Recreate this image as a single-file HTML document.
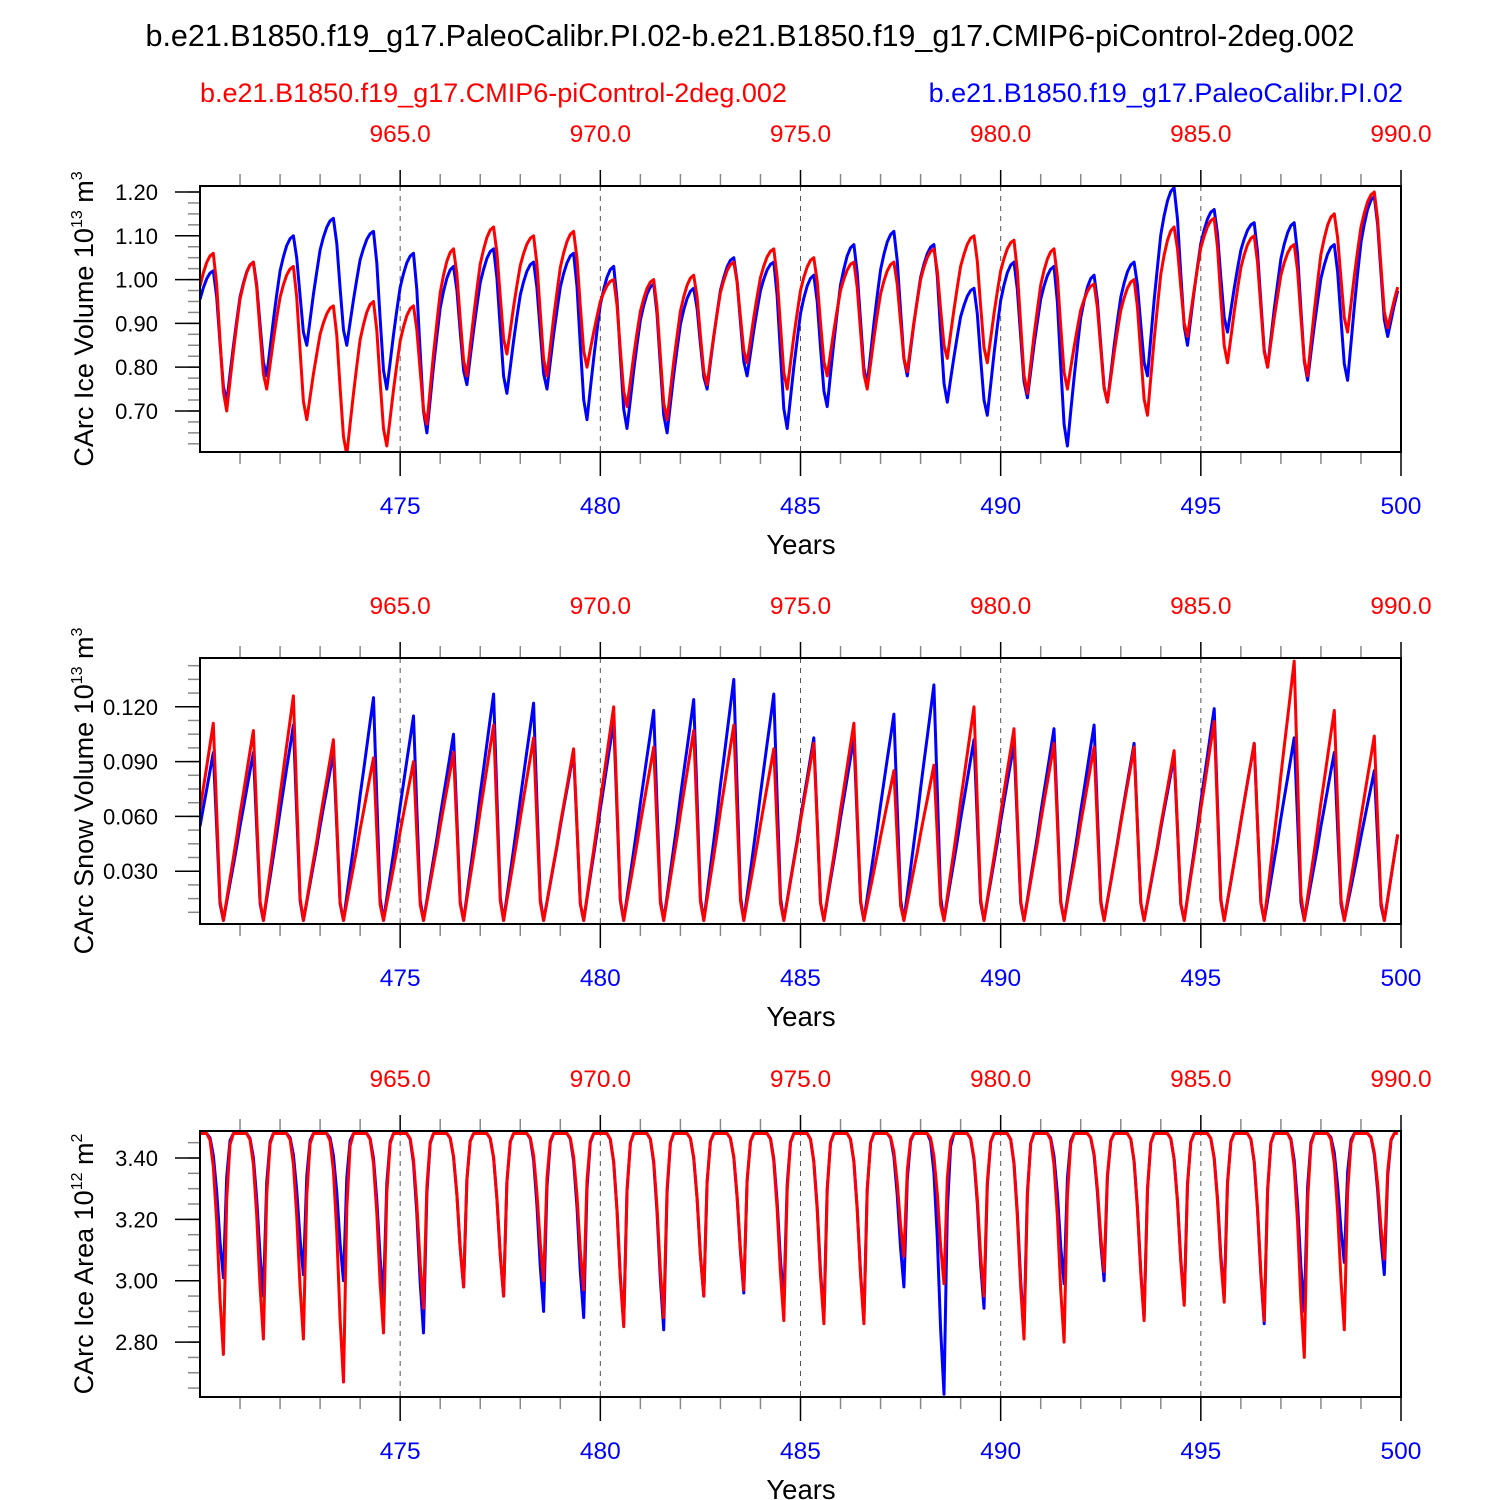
<!DOCTYPE html>
<html><head><meta charset="utf-8"><style>
html,body{margin:0;padding:0;background:#fff;}
svg{display:block;font-family:"Liberation Sans",Arial,sans-serif;}
</style></head><body>
<svg id="chart" width="1500" height="1500" viewBox="0 0 1500 1500">
<text x="750" y="46" font-size="30.5" text-anchor="middle">b.e21.B1850.f19_g17.PaleoCalibr.PI.02-b.e21.B1850.f19_g17.CMIP6-piControl-2deg.002</text>
<text x="200" y="102" font-size="27" fill="#f00">b.e21.B1850.f19_g17.CMIP6-piControl-2deg.002</text>
<text x="1403" y="102" font-size="27" fill="#00f" text-anchor="end">b.e21.B1850.f19_g17.PaleoCalibr.PI.02</text>
</svg>
<script>
// ---- data ----
const years = [470,471,472,473,474,475,476,477,478,479,480,481,482,483,484,485,486,487,488,489,490,491,492,493,494,495,496,497,498,499];
const volBluePeak = [1.02,1.04,1.10,1.14,1.11,1.06,1.03,1.07,1.04,1.06,1.03,0.99,0.98,1.05,1.04,1.01,1.08,1.11,1.08,0.98,1.04,1.03,1.01,1.04,1.21,1.16,1.13,1.13,1.08,1.19];
const volBlueTrough = [0.72,0.78,0.85,0.85,0.75,0.65,0.76,0.74,0.75,0.68,0.66,0.65,0.75,0.78,0.66,0.71,0.76,0.78,0.72,0.69,0.73,0.62,0.72,0.78,0.85,0.88,0.80,0.77,0.77,0.87];
const volRedPeak = [1.06,1.04,1.03,0.94,0.95,0.94,1.07,1.12,1.10,1.11,1.00,1.00,1.01,1.04,1.07,1.05,1.04,1.04,1.07,1.10,1.09,1.07,0.99,1.00,1.12,1.14,1.10,1.08,1.15,1.20];
const volRedTrough = [0.70,0.75,0.68,0.60,0.62,0.67,0.78,0.83,0.78,0.80,0.71,0.68,0.76,0.81,0.75,0.78,0.75,0.79,0.82,0.81,0.74,0.75,0.72,0.69,0.87,0.81,0.80,0.78,0.88,0.89];
const snowBluePeak = [0.095,0.095,0.110,0.095,0.125,0.115,0.105,0.127,0.122,0.095,0.112,0.118,0.124,0.135,0.127,0.103,0.103,0.116,0.132,0.102,0.100,0.108,0.110,0.100,0.093,0.119,0.100,0.103,0.095,0.085];
const snowRedPeak = [0.111,0.107,0.126,0.102,0.092,0.090,0.095,0.110,0.103,0.097,0.120,0.098,0.107,0.110,0.097,0.100,0.111,0.085,0.088,0.120,0.108,0.100,0.098,0.098,0.096,0.112,0.100,0.145,0.118,0.104];
const areaBlueMin = [3.01,2.95,3.02,3.00,2.94,2.83,2.98,2.95,2.90,2.88,2.86,2.84,2.95,2.96,2.93,2.88,2.87,2.98,2.63,2.91,2.84,2.99,3.00,2.88,2.93,2.95,2.86,2.90,3.06,3.02];
const areaRedMin = [2.76,2.81,2.81,2.67,2.83,2.91,2.98,2.95,3.00,2.97,2.85,2.88,2.95,2.97,2.87,2.86,2.86,3.08,2.99,2.95,2.81,2.80,3.03,2.87,2.92,2.93,2.87,2.75,2.84,3.07];
const volTicks = ["0.70","0.80","0.90","1.00","1.10","1.20"];
const snowTicks = ["0.030","0.060","0.090","0.120"];
const areaTicks = ["2.80","3.00","3.20","3.40"];
const bottomTicks = ["475","480","485","490","495","500"];
const topTicks = ["965.0","970.0","975.0","980.0","985.0","990.0"];

// ---- helpers (seasonal shape) ----
const volW = [0.75,0.85,0.93,0.98,1,0.8,0.45,0.12,0,0.2,0.4,0.58];
const snowW = [0.56,0.67,0.78,0.89,1,0.55,0.1,0,0.11,0.22,0.33,0.44];
const areaD = [0,0,0,0.03,0.15,0.4,0.75,1,0.3,0.05,0,0];
function volSeries(pk,tr){const out=[];for(let i=0;i<years.length;i++){for(let m=0;m<12;m++){let lo,hi;
 if(m<4){lo=i>0?tr[i-1]:0.76;hi=pk[i];}else if(m<=8){lo=tr[i];hi=pk[i];}else{lo=tr[i];hi=i<years.length-1?pk[i+1]:1.05;}
 out.push([years[i]+m/12,lo+volW[m]*(hi-lo)]);}}return out;}
function snowSeries(pk){const out=[];const lo=0.003;for(let i=0;i<years.length;i++){for(let m=0;m<12;m++){let hi=(m>=8)?(i<years.length-1?pk[i+1]:0.11):pk[i];
 out.push([years[i]+m/12,lo+snowW[m]*(hi-lo)]);}}return out;}
function areaSeries(mn){const out=[];for(let i=0;i<years.length;i++){for(let m=0;m<12;m++){out.push([years[i]+m/12,3.48-areaD[m]*(3.48-mn[i])]);}}return out;}

const NS="http://www.w3.org/2000/svg";
const svg=document.getElementById('chart');
function el(tag,attrs,parent){const e=document.createElementNS(NS,tag);for(const k in attrs)e.setAttribute(k,attrs[k]);(parent||svg).appendChild(e);return e;}
const X0=200,X1=1401;
function xs(t){return X0+(t-470)/30*(X1-X0);}

function panel(top,ymin,ymax,ticks,minorStep,labelParts,series,name){
 const bot=top+266;
 const ys=v=>bot-(v-ymin)/(ymax-ymin)*(bot-top);
 const g=el('g',{});
 
 
 for(let y=475;y<500;y+=5){const l=el('line',{x1:xs(y),x2:xs(y),y1:top,y2:bot,stroke:'#555','stroke-width':1,'stroke-dasharray':'5,5'},g);
  
  }
 for(let y=471;y<500;y++){if(y%5===0)continue;
  el('line',{x1:xs(y),x2:xs(y),y1:bot,y2:bot+12,stroke:'#888','stroke-width':1.5},g);
  el('line',{x1:xs(y),x2:xs(y),y1:top,y2:top-12,stroke:'#888','stroke-width':1.5},g);}
 bottomTicks.forEach((lab,i)=>{const x=xs(475+5*i);
  el('line',{x1:x,x2:x,y1:bot,y2:bot+24,stroke:'#000','stroke-width':1.5},g);
  el('line',{x1:x,x2:x,y1:top,y2:top-16,stroke:'#000','stroke-width':1.5},g);
  const t=el('text',{x:x,y:bot+62,'font-size':24.5,fill:'#00f','text-anchor':'middle'},g);t.textContent=lab;
  
  
  const t2=el('text',{x:x,y:top-44,'font-size':24.5,fill:'#f00','text-anchor':'middle'},g);t2.textContent=topTicks[i];
  
  });
 const xt=el('text',{x:801,y:bot+102,'font-size':27.5,'text-anchor':'middle'},g);xt.textContent='Years';
 
 
 for(let v=Math.ceil(ymin/minorStep)*minorStep;v<=ymax;v+=minorStep){const y=ys(v);
  el('line',{x1:X0-12,x2:X0,y1:y,y2:y,stroke:'#888','stroke-width':1.5},g);}
 ticks.forEach(lab=>{const y=ys(parseFloat(lab));
  el('line',{x1:X0-25,x2:X0,y1:y,y2:y,stroke:'#000','stroke-width':1.5},g);
  const t=el('text',{x:X0-42,y:y+8,'font-size':22,'text-anchor':'end'},g);t.textContent=lab;
  
  });
 const yt=el('text',{transform:`translate(93,${top+133}) rotate(-90)`,'font-size':27,'text-anchor':'middle'},g);
 
 
 labelParts.forEach(p=>{const s=el('tspan',p.sup?{'font-size':16,dy:p.dy}:{dy:p.dy||0},yt);s.textContent=p.t;});
 series.forEach(s=>{const d=s.data.map((p,i)=>(i?'L':'M')+xs(p[0]).toFixed(1)+','+ys(p[1]).toFixed(1)).join(' ');
  const path=el('path',{d:d,fill:'none',stroke:s.color,'stroke-width':3,'stroke-linejoin':'round','clip-path':'url(#clip-'+name+')'},g);
  
  });
 const cp=el('clipPath',{id:'clip-'+name},g);el('rect',{x:X0,y:top,width:X1-X0,height:bot-top},cp);
 const fr=el('rect',{x:X0,y:top,width:X1-X0,height:bot-top,fill:'none',stroke:'#000','stroke-width':2},g);
 
 
}

panel(186,0.6063,1.2137,volTicks,0.025,
 [{t:'CArc Ice Volume 10'},{t:'13',sup:1,dy:-11},{t:' m',dy:11},{t:'3',sup:1,dy:-11}],
 [{data:volSeries(volBluePeak,volBlueTrough),color:'#00f',name:'ice-volume-blue-line'},
  {data:volSeries(volRedPeak,volRedTrough),color:'#f00',name:'ice-volume-red-line'}],'ice-volume');
panel(658,0.0011,0.1467,snowTicks,0.0075,
 [{t:'CArc Snow Volume 10'},{t:'13',sup:1,dy:-11},{t:' m',dy:11},{t:'3',sup:1,dy:-11}],
 [{data:snowSeries(snowBluePeak),color:'#00f',name:'snow-volume-blue-line'},
  {data:snowSeries(snowRedPeak),color:'#f00',name:'snow-volume-red-line'}],'snow-volume');
panel(1131,2.621,3.488,areaTicks,0.05,
 [{t:'CArc Ice Area 10'},{t:'12',sup:1,dy:-11},{t:' m',dy:11},{t:'2',sup:1,dy:-11}],
 [{data:areaSeries(areaBlueMin),color:'#00f',name:'ice-area-blue-line'},
  {data:areaSeries(areaRedMin),color:'#f00',name:'ice-area-red-line'}],'ice-area');
</script>
</body></html>
